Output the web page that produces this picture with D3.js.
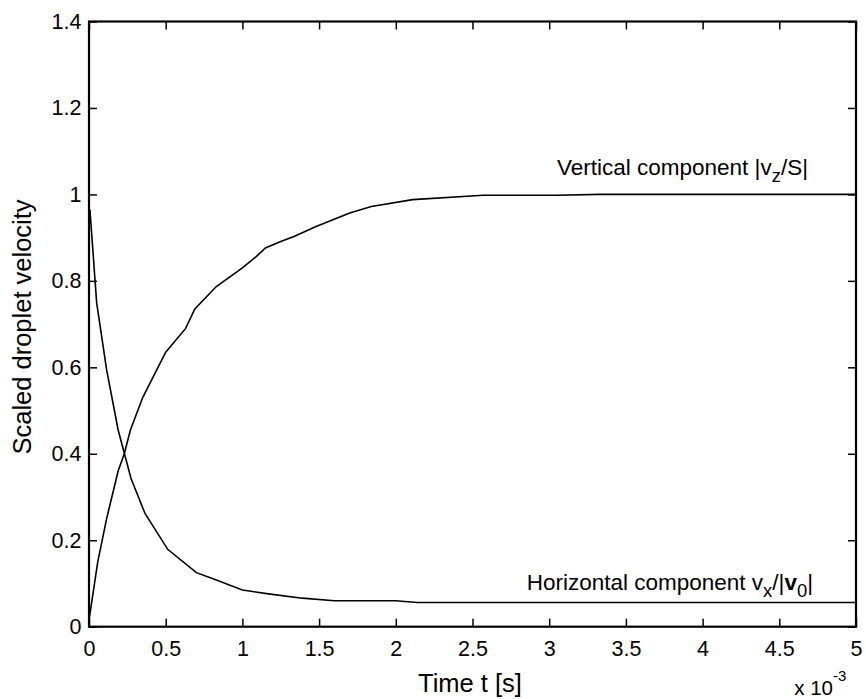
<!DOCTYPE html>
<html>
<head>
<meta charset="utf-8">
<script src="https://cdn.jsdelivr.net/npm/d3@7/dist/d3.min.js"></script>
<style>
  html, body { margin: 0; padding: 0; background: #fff; }
  svg { display: block; }
  text { font-family: "Liberation Sans", Arial, Helvetica, sans-serif; fill: #000; }
</style>
</head>
<body>
<svg id="chart" width="866" height="699"></svg>
<script>
// ---- data (time in seconds) ----
const vertT = [0, 0.057e-3, 0.115e-3, 0.19e-3, 0.23e-3, 0.27e-3, 0.35e-3, 0.5e-3, 0.63e-3, 0.69e-3, 0.83e-3, 1.0e-3, 1.09e-3, 1.15e-3, 1.25e-3, 1.34e-3, 1.48e-3, 1.7e-3, 1.84e-3, 2.11e-3, 2.57e-3, 3.05e-3, 3.33e-3, 5e-3];
const vertV = [0.015, 0.15, 0.25, 0.36, 0.40, 0.455, 0.53, 0.635, 0.69, 0.735, 0.787, 0.83, 0.856, 0.876, 0.891, 0.903, 0.926, 0.957, 0.972, 0.988, 0.998, 0.998, 1.0, 1.0];
const horzT = [0, 0.006e-3, 0.05e-3, 0.115e-3, 0.19e-3, 0.274e-3, 0.365e-3, 0.513e-3, 0.7e-3, 0.8e-3, 1.0e-3, 1.17e-3, 1.39e-3, 1.6e-3, 2.0e-3, 2.14e-3, 5e-3];
const horzV = [0.955, 0.965, 0.749, 0.594, 0.455, 0.343, 0.262, 0.179, 0.125, 0.112, 0.085, 0.076, 0.066, 0.06, 0.06, 0.056, 0.056];
const xTicks = [0, 0.5e-3, 1e-3, 1.5e-3, 2e-3, 2.5e-3, 3e-3, 3.5e-3, 4e-3, 4.5e-3, 5e-3];
const xTickLabels = ["0", "0.5", "1", "1.5", "2", "2.5", "3", "3.5", "4", "4.5", "5"];
const yTicks = [0, 0.2, 0.4, 0.6, 0.8, 1, 1.2, 1.4];
const yTickLabels = ["0", "0.2", "0.4", "0.6", "0.8", "1", "1.2", "1.4"];

const svg = d3.select("#chart");
const L = 89, R = 856, T = 21.5, B = 626.7;
const x = d3.scaleLinear().domain([0, 5e-3]).range([L, R]);
const y = d3.scaleLinear().domain([0, 1.4]).range([B, T]);

const tickFont = 21.5;
const tickLen = 8;

// x axis bottom
const xAxis = d3.axisBottom(x).tickValues(xTicks)
  .tickFormat((d, i) => xTickLabels[i]).tickSizeInner(-tickLen).tickSizeOuter(0).tickPadding(14);
const gx = svg.append("g").attr("transform", `translate(0,${B})`).call(xAxis);
gx.select(".domain").remove();
gx.selectAll("text").attr("font-size", tickFont).attr("font-family", null);
gx.selectAll("line").attr("stroke", "#000").attr("stroke-width", 1.5);

// x axis top (ticks only)
const gxt = svg.append("g").attr("transform", `translate(0,${T})`)
  .call(d3.axisTop(x).tickValues(xTicks).tickSizeInner(-tickLen).tickSizeOuter(0).tickFormat(""));
gxt.select(".domain").remove();
gxt.selectAll("line").attr("stroke", "#000").attr("stroke-width", 1.5);

// y axis left
const yAxis = d3.axisLeft(y).tickValues(yTicks)
  .tickFormat((d, i) => yTickLabels[i]).tickSizeInner(-tickLen).tickSizeOuter(0).tickPadding(7.5);
const gy = svg.append("g").attr("transform", `translate(${L},0)`).call(yAxis);
gy.select(".domain").remove();
gy.selectAll("text").attr("font-size", tickFont).attr("font-family", null);
gy.selectAll("line").attr("stroke", "#000").attr("stroke-width", 1.5);

// y axis right (ticks only)
const gyr = svg.append("g").attr("transform", `translate(${R},0)`)
  .call(d3.axisRight(y).tickValues(yTicks).tickSizeInner(-tickLen).tickSizeOuter(0).tickFormat(""));
gyr.select(".domain").remove();
gyr.selectAll("line").attr("stroke", "#000").attr("stroke-width", 1.5);

// box
svg.append("rect").attr("x", L).attr("y", T).attr("width", R - L).attr("height", B - T)
  .attr("fill", "none").attr("stroke", "#000").attr("stroke-width", 2.2);

// curves
const line = d3.line().x(d => x(d[0])).y(d => y(d[1]));
svg.append("path").datum(vertT.map((t, i) => [t, vertV[i]]))
  .attr("d", line).attr("fill", "none").attr("stroke", "#000").attr("stroke-width", 1.6);
svg.append("path").datum(horzT.map((t, i) => [t, horzV[i]]))
  .attr("d", line).attr("fill", "none").attr("stroke", "#000").attr("stroke-width", 1.6);

// annotations
const annFont = 22.5;
const subScale = 0.82;
const t1 = svg.append("text").attr("x", x(4.687e-3)).attr("y", y(1.046))
  .attr("text-anchor", "end").attr("font-size", annFont);
t1.append("tspan").text("Vertical component |v");
t1.append("tspan").attr("font-size", annFont * subScale).attr("dy", 7).text("z");
t1.append("tspan").attr("dy", -7).text("/S|");

const t2 = svg.append("text").attr("x", x(4.72e-3)).attr("y", y(0.085))
  .attr("text-anchor", "end").attr("font-size", annFont);
t2.append("tspan").text("Horizontal component v");
t2.append("tspan").attr("font-size", annFont * subScale).attr("dy", 7).text("x");
t2.append("tspan").attr("dy", -7).text("/|");
t2.append("tspan").attr("font-weight", "bold").text("v");
t2.append("tspan").attr("font-size", annFont * subScale).attr("dy", 7).text("0");
t2.append("tspan").attr("dy", -7).text("|");

// axis titles
svg.append("text").attr("x", 470).attr("y", 692)
  .attr("text-anchor", "middle").attr("font-size", 25.5).text("Time t [s]");
svg.append("text").attr("transform", `translate(31,327) rotate(-90)`)
  .attr("text-anchor", "middle").attr("font-size", 25.5).text("Scaled droplet velocity");

// exponent label
svg.append("text").attr("x", 833).attr("y", 695).attr("text-anchor", "end").attr("font-size", 20.5).text("x 10");
svg.append("text").attr("x", 833).attr("y", 681).attr("text-anchor", "start").attr("font-size", 15).text("-3");
</script>
</body>
</html>
